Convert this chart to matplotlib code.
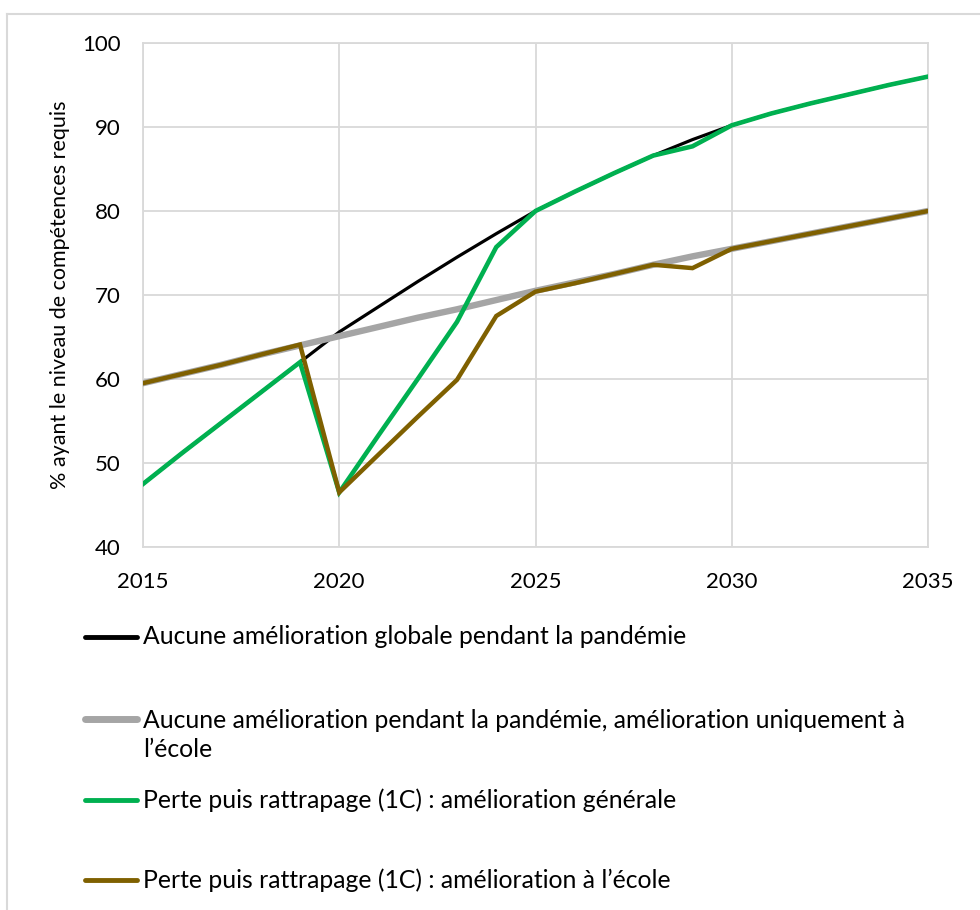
import matplotlib

matplotlib.use("Agg")
import matplotlib.pyplot as plt
from matplotlib.lines import Line2D

# Data
YEARS = list(range(2015, 2036))

NO_GAIN_GLOBAL = [47.5, 51.2, 54.8, 58.4, 62.0, 65.6, 68.6, 71.6, 74.5, 77.3, 80.0,
                  82.3, 84.5, 86.6, 88.5, 90.2, 91.6, 92.8, 93.9, 95.0, 96.0]
NO_GAIN_SCHOOL = [59.5, 60.6, 61.7, 62.9, 64.0, 65.1, 66.2, 67.3, 68.3, 69.4, 70.5,
                  71.5, 72.5, 73.6, 74.6, 75.5, 76.4, 77.3, 78.2, 79.1, 80.0]
LOSS_GENERAL = [47.5, 51.2, 54.8, 58.4, 62.0, 46.5, 53.3, 60.0, 66.8, 75.7, 80.0,
                82.3, 84.5, 86.6, 87.7, 90.2, 91.6, 92.8, 93.9, 95.0, 96.0]
LOSS_SCHOOL = [59.5, 60.6, 61.7, 62.9, 64.1, 46.5, 51.0, 55.5, 59.9, 67.5, 70.4,
               71.4, 72.5, 73.6, 73.2, 75.5, 76.4, 77.3, 78.2, 79.1, 80.0]

LABELS = [
    "Aucune amélioration globale pendant la pandémie",
    "Aucune amélioration pendant la pandémie, amélioration uniquement à\nl\u2019école",
    "Perte puis rattrapage (1C) : amélioration générale",
    "Perte puis rattrapage (1C) : amélioration à l\u2019école",
]
SERIES = [NO_GAIN_GLOBAL, NO_GAIN_SCHOOL, LOSS_GENERAL, LOSS_SCHOOL]
COLORS = ["#000000", "#a5a5a5", "#00b050", "#7f6000"]
WIDTHS = [2.3, 4.6, 3.3, 3.2]

YTICKS = [40, 50, 60, 70, 80, 90, 100]
XTICKS = [2015, 2020, 2025, 2030, 2035]

GRID = "#d9d9d9"
W, H = 980, 910

plt.rcParams["font.family"] = ["Lato", "DejaVu Sans"]

fig = plt.figure(figsize=(W / 100, H / 100), dpi=100)
ax = fig.add_axes([143 / W, 1 - 547 / H, 785 / W, 504 / H])

for vals, col, lw in zip(SERIES, COLORS, WIDTHS):
    ax.plot(YEARS, vals, color=col, lw=lw, solid_joinstyle="miter", zorder=3)

ax.set_xlim(2015, 2035)
ax.set_ylim(40, 100)
ax.set_xticks(XTICKS)
ax.set_yticks(YTICKS)
ax.grid(True, color=GRID, lw=1.3)
for s in ax.spines.values():
    s.set_color(GRID)
    s.set_linewidth(1.3)
ax.tick_params(length=0, labelsize=16, colors="black")
ax.tick_params(axis="y", pad=16)
ax.tick_params(axis="x", pad=18)
ax.set_ylabel("% ayant le niveau de compétences requis", fontsize=15.5)
ax.yaxis.set_label_coords(-73 / 785, 0.5)

# figure border on the top and left edges
fig.add_artist(Line2D([7 / W, 7 / W], [0, 1 - 14 / H], color=GRID, lw=1.5))
fig.add_artist(Line2D([7 / W, 1], [1 - 14 / H, 1 - 14 / H], color=GRID, lw=1.5))

# legend below the plot, laid out like the source
row_y = [637, 719, 800, 880]
text_y = [637, 735, 800, 880]
for lab, col, ry, ty in zip(LABELS, COLORS, row_y, text_y):
    fig.add_artist(Line2D([85 / W, 137 / W], [1 - ry / H] * 2, color=col,
                          lw=3.5 if col != "#a5a5a5" else 5, solid_capstyle="round"))
    fig.text(143 / W, 1 - ty / H, lab, fontsize=17.8, va="center", ha="left",
             linespacing=1.32)

fig.savefig("out.png", dpi=100)
